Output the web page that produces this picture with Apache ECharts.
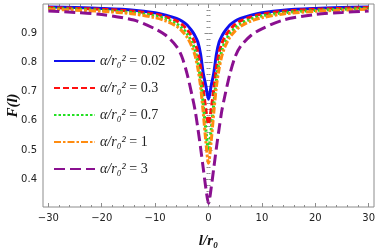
<!DOCTYPE html>
<html>
<head>
<meta charset="utf-8">
<script src="https://cdn.jsdelivr.net/npm/echarts@6/dist/echarts.min.js"></script>
<style>html,body{margin:0;padding:0;background:#fff}#c{width:378px;height:250px}</style>
</head>
<body>
<div id="c"></div>
<script>
// l / r0 sample points
const lValues = [-30,-25,-20,-14,-10,-8,-6,-5,-4,-3,-2.5,-2,-1.5,-1,-0.5,0,0.5,1,1.5,2,2.5,3,4,5,6,8,10,14,20,25,30];
// F(l)
const F_002 = [0.990,0.988,0.985,0.979,0.970,0.962,0.951,0.942,0.928,0.905,0.890,0.870,0.830,0.765,0.720,0.674,0.720,0.765,0.830,0.870,0.890,0.905,0.928,0.942,0.951,0.962,0.970,0.979,0.985,0.988,0.990];
const F_03  = [0.988,0.985,0.982,0.975,0.965,0.956,0.942,0.930,0.912,0.885,0.865,0.835,0.785,0.710,0.640,0.588,0.640,0.710,0.785,0.835,0.865,0.885,0.912,0.930,0.942,0.956,0.965,0.975,0.982,0.985,0.988];
const F_07  = [0.985,0.982,0.978,0.970,0.959,0.949,0.932,0.918,0.898,0.866,0.840,0.800,0.745,0.660,0.570,0.500,0.570,0.660,0.745,0.800,0.840,0.866,0.898,0.918,0.932,0.949,0.959,0.970,0.978,0.982,0.985];
const F_1   = [0.982,0.979,0.975,0.966,0.953,0.942,0.924,0.908,0.886,0.850,0.822,0.780,0.720,0.630,0.530,0.455,0.530,0.630,0.720,0.780,0.822,0.850,0.886,0.908,0.924,0.942,0.953,0.966,0.975,0.979,0.982];
const F_3   = [0.976,0.971,0.964,0.945,0.915,0.893,0.855,0.820,0.760,0.680,0.635,0.575,0.510,0.440,0.370,0.318,0.370,0.440,0.510,0.575,0.635,0.680,0.760,0.820,0.855,0.893,0.915,0.945,0.964,0.971,0.976];
const seriesNames = ['0.02','0.3','0.7','1','3'];
const seriesData = [F_002, F_03, F_07, F_1, F_3];
const xMajor = [-30,-20,-10,0,10,20,30];
const xMinor = [-28,-26,-24,-22,-18,-16,-14,-12,-8,-6,-4,-2,2,4,6,8,12,14,16,18,22,24,26,28];
const yMajor = [0.4,0.5,0.6,0.7,0.8,0.9];
const yMinor = [0.32,0.34,0.36,0.38,0.42,0.44,0.46,0.48,0.52,0.54,0.56,0.58,0.62,0.64,0.66,0.68,0.72,0.74,0.76,0.78,0.82,0.84,0.86,0.88,0.92,0.94,0.96,0.98];

const colors = ['#1010ee','#ff1010','#22e022','#ff8c10','#8a1090'];
const dashes = ['solid',[6,3],[2.5,2],[7,2,2.5,2],[11,5]];
const frame = '#8c8c8c';

const chart = echarts.init(document.getElementById('c'), null, {renderer:'canvas'});
function mkX(pos, vals, len, labels){
  return {type:'value', position:pos, min:-31, max:31, gridIndex:0,
    axisLine:{show:false}, splitLine:{show:false},
    axisTick:{show:true, inside:true, length:len, customValues:vals, lineStyle:{color:frame,width:1}},
    axisLabel:labels ? {show:true, customValues:vals, margin:6, color:'#222', fontFamily:'DejaVu Sans', fontSize:10,
      formatter:v=>String(v).replace('-','\u2212')} : {show:false},
    name: labels ? 'l/r₀' : '', nameLocation:'middle', nameGap:27,
    nameTextStyle:{fontFamily:'Liberation Serif', fontStyle:'italic', fontWeight:'bold', fontSize:15, color:'#111'}};
}
function mkY(pos, vals, len, labels){
  return {type:'value', position:pos, min:0.305, max:1.0, gridIndex:0,
    axisLine:{show:false}, splitLine:{show:false},
    axisTick:{show:true, inside:true, length:len, customValues:vals, lineStyle:{color:frame,width:1}},
    axisLabel:labels ? {show:true, customValues:vals, margin:6, color:'#222', fontFamily:'DejaVu Sans', fontSize:10,
      formatter:v=>v.toFixed(1)} : {show:false},
    name: labels ? 'F(l)' : '', nameLocation:'middle', nameGap:22, nameRotate:90, nameMoveOverlap:false,
    nameTextStyle:{fontFamily:'Liberation Serif', fontStyle:'italic', fontWeight:'bold', fontSize:15, color:'#111'}};
}
const series = seriesNames.map((n,i)=>({
  name:n, type:'line', xAxisIndex:0, yAxisIndex:0, symbol:'none', smooth:0.3,
  lineStyle:{color:colors[i], width:3, type:dashes[i], cap:'butt'},
  itemStyle:{color:colors[i]},
  data:lValues.map((l,k)=>[l, seriesData[i][k]])
}));
chart.setOption({
  animation:false,
  grid:{left:43, right:4, top:4, bottom:43, outerBoundsMode:'none', containLabel:false,
    show:true, borderColor:frame, borderWidth:1, backgroundColor:'transparent'},
  xAxis:[mkX('bottom',xMajor,4,true), mkX('bottom',xMinor,2,false), mkX('top',xMajor,4,false), mkX('top',xMinor,2,false)],
  yAxis:[mkY('left',yMajor,4,true), mkY('left',yMinor,2,false), mkY('right',yMajor,4,false), mkY('right',yMinor,2,false)],
  legend:{orient:'vertical', left:53, top:54, padding:0, itemWidth:41, itemHeight:14, itemGap:13,
    data:seriesNames,
    itemStyle:{opacity:0, color:'transparent', borderWidth:0},
    formatter:n=>'{i|α/r₀²}{n| = '+n+'}',
    textStyle:{rich:{
      i:{fontFamily:'Liberation Serif', fontStyle:'italic', fontSize:14, lineHeight:15, color:'#222'},
      n:{fontFamily:'Liberation Serif', fontSize:14, lineHeight:15, color:'#222'}}}},
  series:series
});
</script>
</body>
</html>
